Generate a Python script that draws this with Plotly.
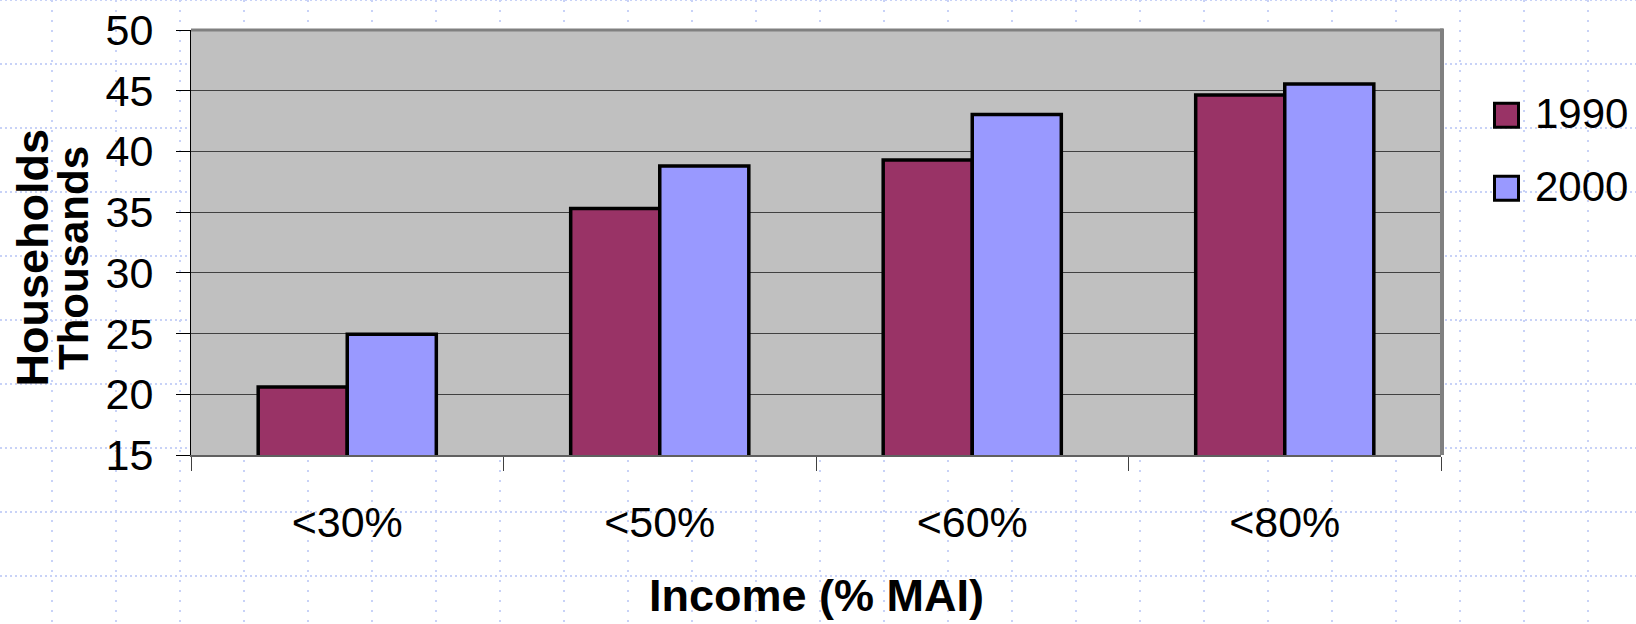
import plotly.graph_objects as go

# ---------------- data ----------------
categories = ["<30%", "<50%", "<60%", "<80%"]
series_names = ["1990", "2000"]
values_1990 = [20.6, 35.3, 39.3, 44.65]
values_2000 = [24.95, 38.8, 43.05, 45.55]
y_tick_values = [15, 20, 25, 30, 35, 40, 45, 50]
y_title = "Households"
y_units = "Thousands"
x_title = "Income (% MAI)"

# ---------------- style ----------------
colors = ["#993366", "#9999FF"]
FONT = "Arial, 'Liberation Sans', sans-serif"
W, H = 1636, 624
ML, MR, MT, MB = 191, 195, 30, 169
PW = W - ML - MR
PH = H - MT - MB


def px2x(px):
    return (px - ML) / PW


def py2y(py):
    return (H - MB - py) / PH


fig = go.Figure()
for name, vals, col in zip(series_names, [values_1990, values_2000], colors):
    fig.add_trace(go.Bar(
        x=categories, y=vals, name=name,
        marker=dict(color=col, line=dict(color="black", width=3.5)),
        showlegend=False,
    ))

shapes = []
# slide background dotted grid
GRID = 64
xp = 52
while xp < W:
    shapes.append(dict(type="line", xref="paper", yref="paper",
                       x0=px2x(xp), x1=px2x(xp), y0=py2y(0), y1=py2y(H),
                       line=dict(color="#c8d2f7", width=2, dash="2px,8px"), layer="below"))
    xp += GRID
yp = 0
while yp < H:
    shapes.append(dict(type="line", xref="paper", yref="paper",
                       x0=px2x(0), x1=px2x(W), y0=py2y(yp), y1=py2y(yp),
                       line=dict(color="#c8d2f7", width=2, dash="2px,3px"), layer="below"))
    yp += GRID
# plot area fill
shapes.append(dict(type="rect", xref="paper", yref="paper", x0=0, x1=1, y0=0, y1=1,
                   fillcolor="#c0c0c0", line=dict(width=0), layer="below"))
# plot area border (top / right)
shapes.append(dict(type="line", xref="paper", yref="paper", x0=0, x1=px2x(ML + PW + 2), y0=1, y1=1,
                   line=dict(color="#808080", width=3), layer="above"))
shapes.append(dict(type="line", xref="paper", yref="paper", x0=px2x(ML + PW + 1), x1=px2x(ML + PW + 1),
                   y0=0, y1=py2y(MT - 1.5),
                   line=dict(color="#808080", width=4), layer="above"))

annotations = []
# manual legend
leg_y = [115.3, 188.3]
for name, col, ly in zip(series_names, colors, leg_y):
    shapes.append(dict(type="rect", xref="paper", yref="paper",
                       x0=px2x(1494.5), x1=px2x(1518.5), y0=py2y(ly + 12), y1=py2y(ly - 12),
                       fillcolor=col, line=dict(color="black", width=3), layer="above"))
    annotations.append(dict(text=name, xref="paper", yref="paper", x=px2x(1533), y=py2y(ly - 2),
                            xanchor="left", yanchor="middle", showarrow=False,
                            font=dict(family=FONT, size=42, color="black")))

# axis titles
annotations.append(dict(text=y_title, xref="paper", yref="paper", x=px2x(32), y=py2y(257.5),
                        xanchor="center", yanchor="middle", textangle=-90, showarrow=False,
                        font=dict(family=FONT, size=45, color="black", weight="bold")))
annotations.append(dict(text=y_units, xref="paper", yref="paper", x=px2x(73), y=py2y(258),
                        xanchor="center", yanchor="middle", textangle=-90, showarrow=False,
                        font=dict(family=FONT, size=42, color="black", weight="bold")))
annotations.append(dict(text=x_title, xref="paper", yref="paper", x=0.5, y=py2y(623),
                        xanchor="center", yanchor="bottom", showarrow=False,
                        font=dict(family=FONT, size=45, color="black", weight="bold")))

fig.update_layout(
    width=W, height=H, autosize=False,
    margin=dict(l=ML, r=MR, t=MT, b=MB, pad=0, autoexpand=False),
    paper_bgcolor="white", plot_bgcolor="rgba(0,0,0,0)",
    barmode="group", bargap=0.43, bargroupgap=0,
    showlegend=False,
    font=dict(family=FONT, color="black"),
    shapes=shapes, annotations=annotations,
    xaxis=dict(type="category", range=[-0.5, 3.5], tickson="boundaries", automargin=False,
               ticks="outside", ticklen=14, tickwidth=1, tickcolor="#404040",
               showline=True, linecolor="#606060", linewidth=2, showgrid=False,
               tickfont=dict(family=FONT, size=43, color="black"), ticklabelstandoff=28),
    yaxis=dict(range=[15, 50], tickmode="array", tickvals=y_tick_values, automargin=False,
               ticks="outside", ticklen=14, tickwidth=1, tickcolor="black",
               showline=True, linecolor="black", linewidth=1,
               showgrid=True, gridcolor="#404040", gridwidth=1, zeroline=False,
               tickfont=dict(family=FONT, size=43, color="black"), ticklabelstandoff=14),
)

fig.write_html("out.html")
